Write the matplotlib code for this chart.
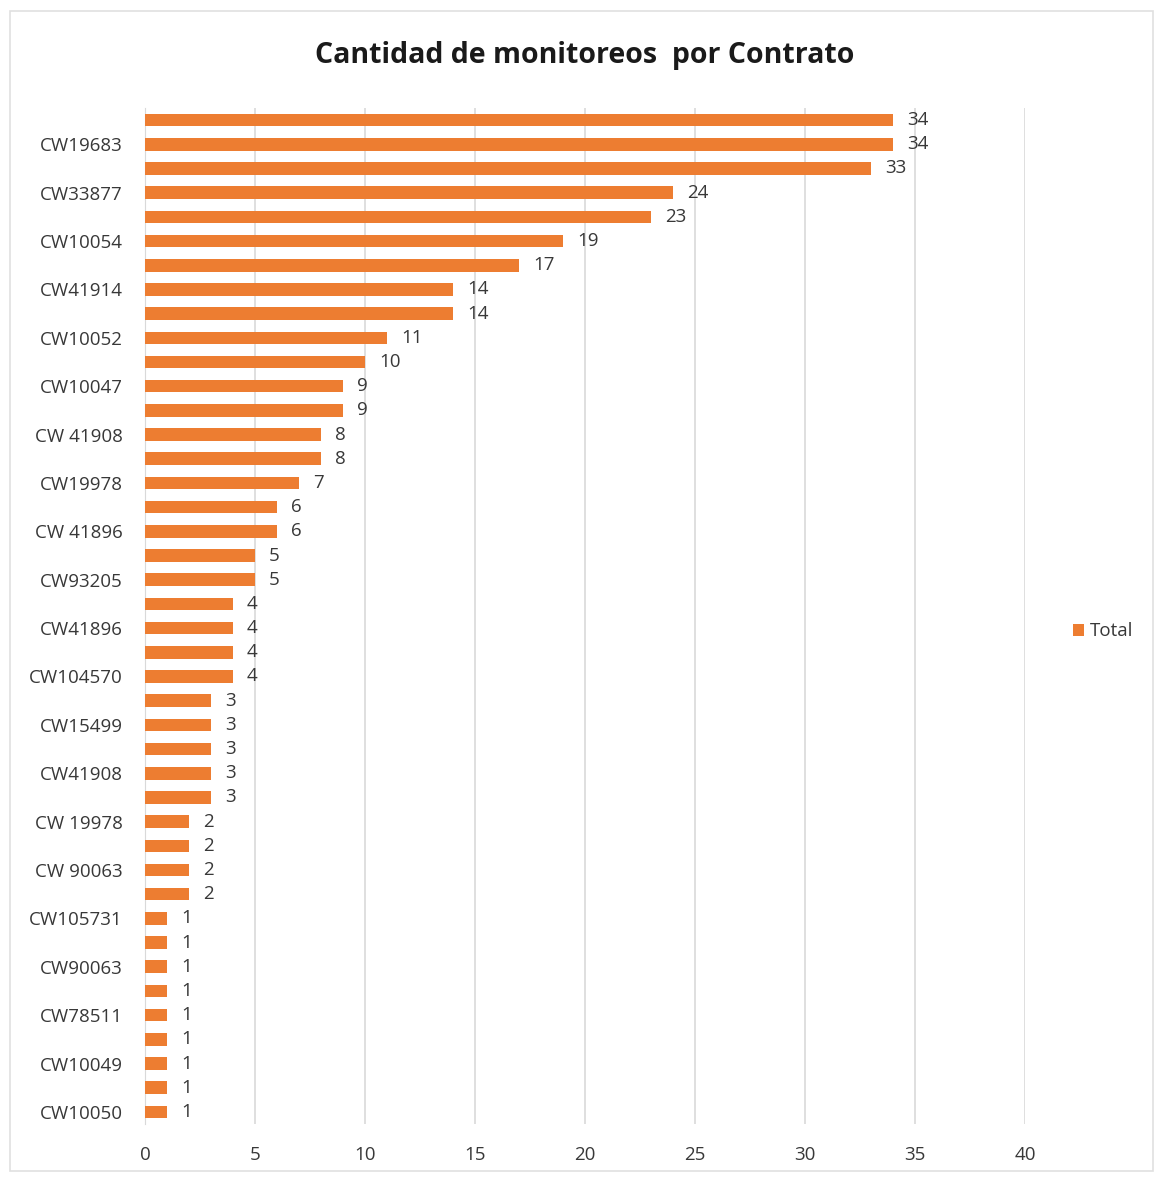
import matplotlib
matplotlib.use('Agg')
import matplotlib.pyplot as plt
import numpy as np

plt.rcParams['font.family'] = ['Open Sans', 'DejaVu Sans']

# shown labels (Excel skips every other category label)
labels = ['', 'CW19683', '', 'CW33877', '', 'CW10054', '', 'CW41914',
          '', 'CW10052', '', 'CW10047', '', 'CW 41908', '', 'CW19978',
          '', 'CW 41896', '', 'CW93205', '', 'CW41896', '', 'CW104570',
          '', 'CW15499', '', 'CW41908', '', 'CW 19978', '', 'CW 90063',
          '', 'CW105731', '', 'CW90063', '', 'CW78511', '', 'CW10049',
          '', 'CW10050']
values = [34, 34, 33, 24, 23, 19, 17, 14, 14, 11, 10, 9, 9, 8, 8, 7,
          6, 6, 5, 5, 4, 4, 4, 4, 3, 3, 3, 3, 3, 2, 2, 2, 2,
          1, 1, 1, 1, 1, 1, 1, 1, 1]

orange = '#ED7D31'
txt = '#383838'

fig = plt.figure(figsize=(11.56, 11.79), dpi=100)
# light border around chart area
fig.patches.append(plt.Rectangle((10/1156, 8/1179), 1143/1156, 1160/1179,
                                 transform=fig.transFigure, fill=False,
                                 edgecolor='#E0E0E0', linewidth=1.2))

ax = fig.add_axes([145/1156, 1 - 1124/1179, 880/1156, 1016/1179])

y = np.arange(len(values))
ax.barh(y, values, height=0.52, color=orange, label='Total', zorder=3)

for yi, v in zip(y, values):
    ax.annotate(str(v), (v, yi), xytext=(10, 0), textcoords='offset points',
                va='center', ha='left', fontsize=13.5, color=txt)

ax.set_ylim(len(values) - 0.5, -0.5)
ax.set_xlim(0, 40)
ax.set_yticks(y)
ax.set_yticklabels(labels, fontsize=13.5, color=txt)
ax.set_xticks(np.arange(0, 41, 5))
ax.tick_params(axis='x', labelsize=13.5, labelcolor=txt, length=0, pad=16)
ax.tick_params(axis='y', length=0, pad=16)

ax.grid(axis='x', color='#D9D9D9', linewidth=1.2, zorder=0)
for s in ['top', 'right', 'bottom']:
    ax.spines[s].set_visible(False)
ax.spines['left'].set_color('#D9D9D9')

fig.text(585/1156, 1 - 55/1179, 'Cantidad de monitoreos  por Contrato',
         ha='center', va='center', fontsize=20.5, fontweight='bold', color='#1a1a1a')

ax.legend(loc='center left', bbox_to_anchor=(1.035, 0.485), frameon=False,
          fontsize=13.5, handlelength=0.6, handleheight=0.6, handletextpad=0.3,
          labelcolor=txt)

fig.savefig('out.png', dpi=100)
